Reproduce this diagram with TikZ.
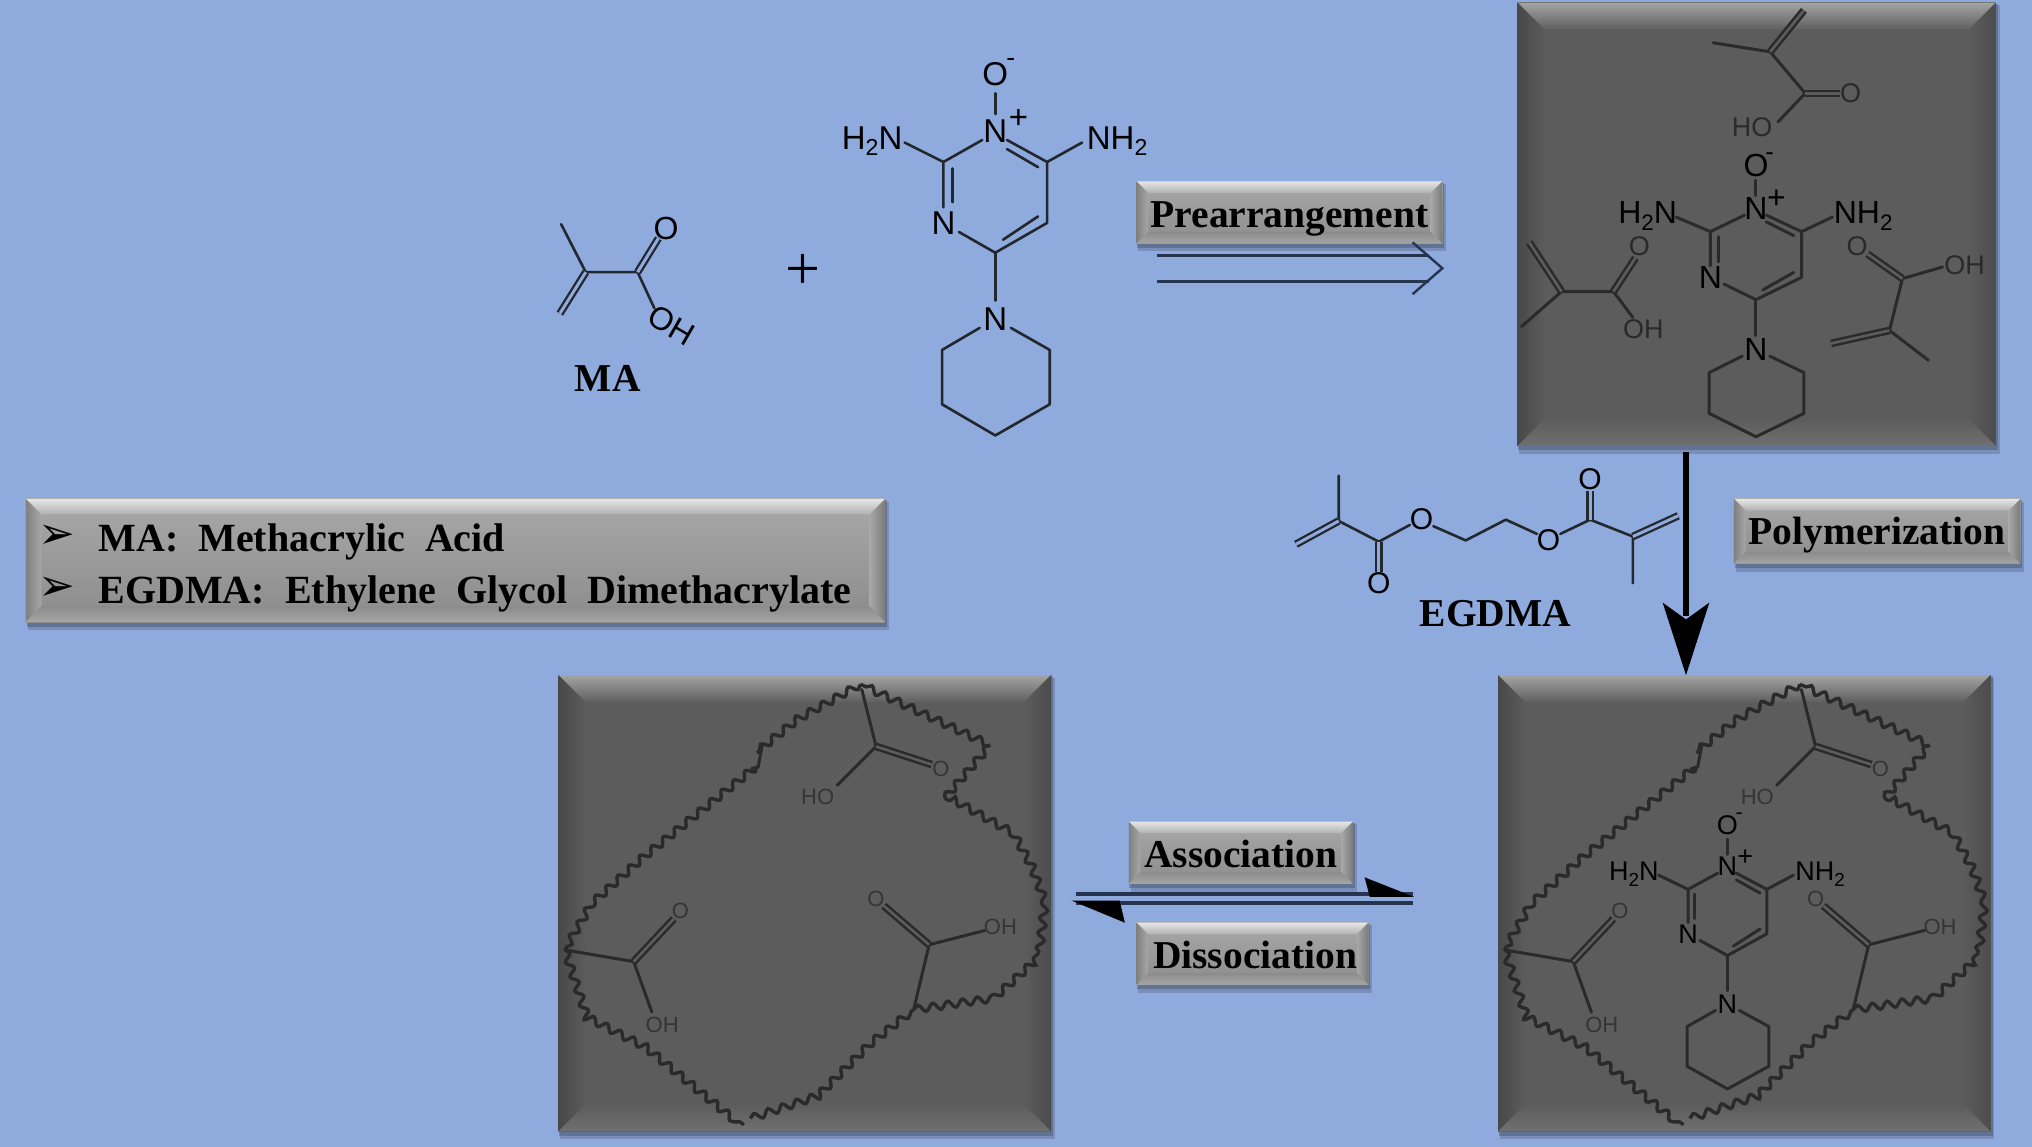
\documentclass[tikz,border=0pt]{standalone}
\usepackage{fontspec}
\setmainfont{Liberation Serif}
\newfontfamily\atomfam{Liberation Sans}
\newfontfamily\bulletfam{DejaVu Sans}
\usetikzlibrary{decorations.pathmorphing,fit,calc}
\definecolor{bgblue}{HTML}{8FAADC}
\definecolor{inkblue}{HTML}{23272E}
\definecolor{inkbox}{HTML}{2A2A2A}
\definecolor{inkfaint}{HTML}{353535}
\definecolor{facegrey}{HTML}{5C5C5C}
\definecolor{arrownavy}{HTML}{27344F}
\newcommand\afs[1]{\fontsize{#1}{#1}\selectfont\atomfam}
\newcommand\sbs[1]{\raisebox{-.2em}{\scalebox{.7}{#1}}}
\tikzset{
  x=1.296pt,y=-1.296pt,
  every node/.style={inner sep=0pt,outer sep=0pt},
  bond/.style={draw=inkblue,line width=2.6pt,line cap=round,line join=round},
  dbond/.style={draw=inkblue,double=bgblue,line width=2.3pt,double distance=3pt},
  bondbox/.style={draw=inkbox,line width=3pt,line cap=round,line join=round},
  dbondbox/.style={draw=inkbox,double=facegrey,line width=2.5pt,double distance=2.6pt},
  lbl/.style={font=\fontsize{39.5}{39.5}\selectfont\bfseries,text=black,yshift=-3.5pt},
  leg/.style={font=\fontsize{40}{40}\selectfont\bfseries,text=black,anchor=west},
  wavy/.style={draw=inkbox,line width=3.4pt,decorate,decoration={snake,segment length=15pt,amplitude=3.6pt}},
}
% bevelled face
\newcommand\bevelbase[6]{%
  \fill[black!70!bgblue,opacity=.22] (#2+1.5,#3+2) rectangle (#4+3,#5+6);
  \fill[black!70!bgblue,opacity=.3] (#2+.5,#3+1) rectangle (#4+1.5,#5+3.5);
  \shade[top color=bvFA,bottom color=bvFB] (#2,#3) rectangle (#4,#5);
  \shade[top color=bvTA,bottom color=bvTB] (#2,#3)--(#4,#3)--(#4-#6,#3+#6)--(#2+#6,#3+#6)--cycle;
  \shade[left color=bvL,right color=bvFA] (#2,#3)--(#2+#6,#3+#6)--(#2+#6,#5-#6)--(#2,#5)--cycle;
  \shade[left color=bvFA,right color=bvR] (#4,#3)--(#4-#6,#3+#6)--(#4-#6,#5-#6)--(#4,#5)--cycle;
  \shade[top color=bvFB,bottom color=bvB] (#2,#5)--(#2+#6,#5-#6)--(#4-#6,#5-#6)--(#4,#5)--cycle;
  \coordinate (#1-a) at (#2,#3);
  \coordinate (#1-b) at (#4,#5);
  \node[fit=(#1-a)(#1-b)] (#1) {};
}
\newcommand\darkbox[5]{%
  \colorlet{bvFA}{facegrey}\colorlet{bvFB}{facegrey}
  \definecolor{bvTA}{HTML}{A4A4A4}\definecolor{bvTB}{HTML}{5E5E5E}
  \definecolor{bvL}{HTML}{484848}\definecolor{bvR}{HTML}{4C4C4C}\definecolor{bvB}{HTML}{707070}
  \bevelbase{#1}{#2}{#3}{#4}{#5}{21}}
\newcommand\greybox[6]{%
  \definecolor{bvFA}{HTML}{A8A8A8}\definecolor{bvFB}{HTML}{8C8C8C}
  \definecolor{bvTA}{HTML}{E6E6E6}\definecolor{bvTB}{HTML}{B0B0B0}
  \definecolor{bvL}{HTML}{808080}\definecolor{bvR}{HTML}{7A7A7A}\definecolor{bvB}{HTML}{A6A6A6}
  \bevelbase{#1}{#2}{#3}{#4}{#5}{#6}}
% pyrimidine N-oxide with piperidine: prefix,x,y,xscale,yscale,font size,bond style,double style
\newcommand\minox[8]{%
 \begin{scope}[shift={(#2,#3)},xscale=#4,yscale=#5]
  \node (#1N) at (0,1) {\afs{#6}N};
  \node (#1P) at (18,-8) {\afs{#6}+};
  \node (#1O) at (0,-43) {\afs{#6}O};
  \node (#1M) at (12,-52) {\afs{#6}\scalebox{.8}{-}};
  \node (#1LN) at (-40,72) {\afs{#6}N};
  \node (#1PN) at (0,146) {\afs{#6}N};
  \node (#1A) at (-95,9) {\afs{#6}H\sbs{2}N};
  \node (#1B) at (94,9) {\afs{#6}NH\sbs{2}};
  \draw[#7] (0,-12)--(0,-28);
  \draw[#7] (9,8)--(40,25)--(40,72)--(0,95)--(-28,79);
  \draw[#7] (9,15)--(33,29);
  \draw[#7] (33,67)--(6,85);
  \draw[#7] (-40,60)--(-40,25)--(-10,8);
  \draw[#7] (-33,56)--(-33,30);
  \draw[#7] (-40,25)--(-70,10);
  \draw[#7] (40,25)--(67,10);
  \draw[#7] (0,95)--(0,132);
  \draw[#7] (-12,153)--(-41,170)--(-41,212)--(0,236)--(42,212)--(42,170)--(12,153);
 \end{scope}}
% polymer shell with three acid groups
\newcommand\shell[2]{%
 \begin{scope}[xshift=#2*1.296pt]
  \draw[wavy] (1389,528)--(1344,553)--(1309,581);
  \draw[bondbox] (1313,576)--(1310,592)--(1305,593);
  \draw[wavy] (1309,591)--(1222,661)--(1182,697)--(1161,733);
  \draw[wavy] (1161,733)--(1177,782)--(1222,805)--(1299,868);
  \draw[wavy] (1304,863)--(1355,846)--(1394,807)--(1430,779);
  \draw[wavy] (1430,779)--(1487,771)--(1527,735);
  \draw[wavy] (1527,735)--(1531,700)--(1520,670)--(1506,645)--(1454,616);
  \draw[wavy] (1454,616)--(1489,575);
  \draw[wavy] (1489,575)--(1389,528);
  \node (#1oa) at (1451,593) {\afs{22}\textcolor{inkfaint}{O}};
  \node (#1ha) at (1356,615) {\afs{22}\textcolor{inkfaint}{HO}};
  \node (#1ob) at (1250,703) {\afs{22}\textcolor{inkfaint}{O}};
  \node (#1hb) at (1236,791) {\afs{22}\textcolor{inkfaint}{OH}};
  \node (#1oc) at (1401,694) {\afs{22}\textcolor{inkfaint}{O}};
  \node (#1hc) at (1497,715) {\afs{22}\textcolor{inkfaint}{OH}};
  \draw[bondbox] (1390,532)--(1401,576)--(1371,606);
  \draw[dbondbox] (1401,576)--(1444,590);
  \draw[bondbox] (1161,733)--(1214,742)--(1228,781);
  \draw[dbondbox] (1214,742)--(1245,709);
  \draw[bondbox] (1430,779)--(1442,729)--(1485,718);
  \draw[dbondbox] (1442,729)--(1407,699);
 \end{scope}}
\begin{document}
\begin{tikzpicture}
\useasboundingbox (0,0) rectangle (1568,885);
\fill[bgblue] (0,0) rectangle (1568,885);

% --- MA
\node (maO) at (514,176) {\afs{32}O};
\node[rotate=-30] (maOH) at (518,251) {\afs{32}OH};
\node[lbl] (malabel) at (469,289) {MA};
\draw[bond] (433,173)--(452,210)--(492,210)--(505,238);
\draw[dbond] (452,210)--(432,242);
\draw[dbond] (492,210)--(508,184);
\node (plus) at (620,210) {\fontsize{62}{62}\selectfont +};

\minox{a}{768}{100}{1}{1}{33}{bond}{dbond}

% --- Prearrangement
\greybox{prebox}{877}{140}{1113}{188}{9}
\node[lbl] (pretxt) at ($(prebox)+(0,2)$) {Prearrangement};
\coordinate (preA) at (893,197);
\coordinate (preB) at (893,217);
\coordinate (preC) at (1103,197);
\coordinate (preD) at (1103,217);
\coordinate (preTip) at (1113,207);
\coordinate (preU) at (1090,187);
\coordinate (preV) at (1090,227);
\draw[arrownavy,line width=3.4pt] (preA)--(preC);
\draw[arrownavy,line width=3.4pt] (preB)--(preD);
\draw[arrownavy,line width=2.4pt] (preU)--(preTip)--(preV);

% --- box 1
\darkbox{boxa}{1171}{2}{1540}{344}
\minox{b}{1355}{160}{.88}{.75}{32}{bondbox}{dbondbox}
\node (baO) at (1428,72) {\afs{27}\textcolor{inkbox}{O}};
\node (baH) at (1352,98) {\afs{27}\textcolor{inkbox}{HO}};
\draw[bondbox] (1322,33)--(1366,40)--(1393,72)--(1372,94);
\draw[dbondbox] (1366,40)--(1392,8);
\draw[dbondbox] (1393,72)--(1420,72);
\node (bbO) at (1265,190) {\afs{27}\textcolor{inkbox}{O}};
\node (bbH) at (1268,254) {\afs{27}\textcolor{inkbox}{OH}};
\draw[bondbox] (1174,252)--(1205,225)--(1245,225)--(1260,245);
\draw[dbondbox] (1205,225)--(1180,187);
\draw[dbondbox] (1245,225)--(1262,199);
\node (bcO) at (1433,190) {\afs{27}\textcolor{inkbox}{O}};
\node (bcH) at (1516,205) {\afs{27}\textcolor{inkbox}{OH}};
\draw[bondbox] (1499,206)--(1468,215)--(1458,255)--(1488,278);
\draw[dbondbox] (1468,215)--(1441,196);
\draw[dbondbox] (1458,255)--(1413,265);

% --- legend
\greybox{legbox}{20}{385}{683}{480}{12}
\node[font=\fontsize{44}{44}\selectfont\bulletfam] (bula) at (44,414) {➢};
\node[font=\fontsize{44}{44}\selectfont\bulletfam] (bulb) at (44,454) {➢};
\node[leg] (lega) at (76,418) {MA:\ \ Methacrylic\ \ Acid};
\node[leg] (legb) at (76,458) {EGDMA:\ \ Ethylene\ \ Glycol\ \ Dimethacrylate};

% --- EGDMA
\node (eOa) at (1064,450) {\afs{30}O};
\node (eOb) at (1097,401) {\afs{30}O};
\node (eOc) at (1195,417) {\afs{30}O};
\node (eOd) at (1227,370) {\afs{30}O};
\node[lbl] (eglabel) at (1154,471) {EGDMA};
\draw[bond] (1033,367)--(1033,402)--(1064,418)--(1088,405);
\draw[dbond] (1033,402)--(1000,420);
\draw[dbond] (1064,418)--(1064,441);
\draw[bond] (1106,406)--(1131,417)--(1162,401)--(1186,412);
\draw[bond] (1204,412)--(1227,401)--(1260,414)--(1260,450);
\draw[dbond] (1227,401)--(1227,379);
\draw[dbond] (1260,414)--(1295,398);

% --- box 3, box 4
\darkbox{boxc}{1156}{521}{1536}{873}
\darkbox{boxd}{431}{521}{811}{873}
\shell{c}{0}
\shell{d}{-725}
\minox{e}{1333}{668}{.76}{.73}{27}{bondbox}{dbondbox}

% --- Polymerization
\coordinate (polyA) at (1301,349);
\coordinate (polyB) at (1301,475);
\coordinate (polyTip) at (1301,521);
\draw[black,line width=6.5pt] (polyA)--(polyB);
\fill[black] (polyTip)--(1283,465)--(1301,478)--(1319,465)--cycle;
\greybox{polbox}{1338}{385}{1559}{435}{9}
\node[lbl] (poltxt) at (polbox) {Polymerization};

% --- Association / Dissociation
\greybox{assbox}{871}{634}{1044}{682}{9}
\node[lbl] (asstxt) at ($(assbox)+(0,-2)$) {Association};
\greybox{disbox}{877}{712}{1056}{760}{9}
\node[lbl] (distxt) at ($(disbox)+(2,-2)$) {Dissociation};
\coordinate (eqA) at (830,690);
\coordinate (eqB) at (1090,690);
\coordinate (eqC) at (1090,697);
\coordinate (eqD) at (830,697);
\draw[arrownavy,line width=3.6pt] (eqA)--(eqB);
\draw[arrownavy,line width=3.6pt] (eqC)--(eqD);
\fill[black] (1091,692)--(1053,677)--(1057,692)--cycle;
\fill[black] (827,695)--(868,712)--(864,695)--cycle;
\end{tikzpicture}
\end{document}
